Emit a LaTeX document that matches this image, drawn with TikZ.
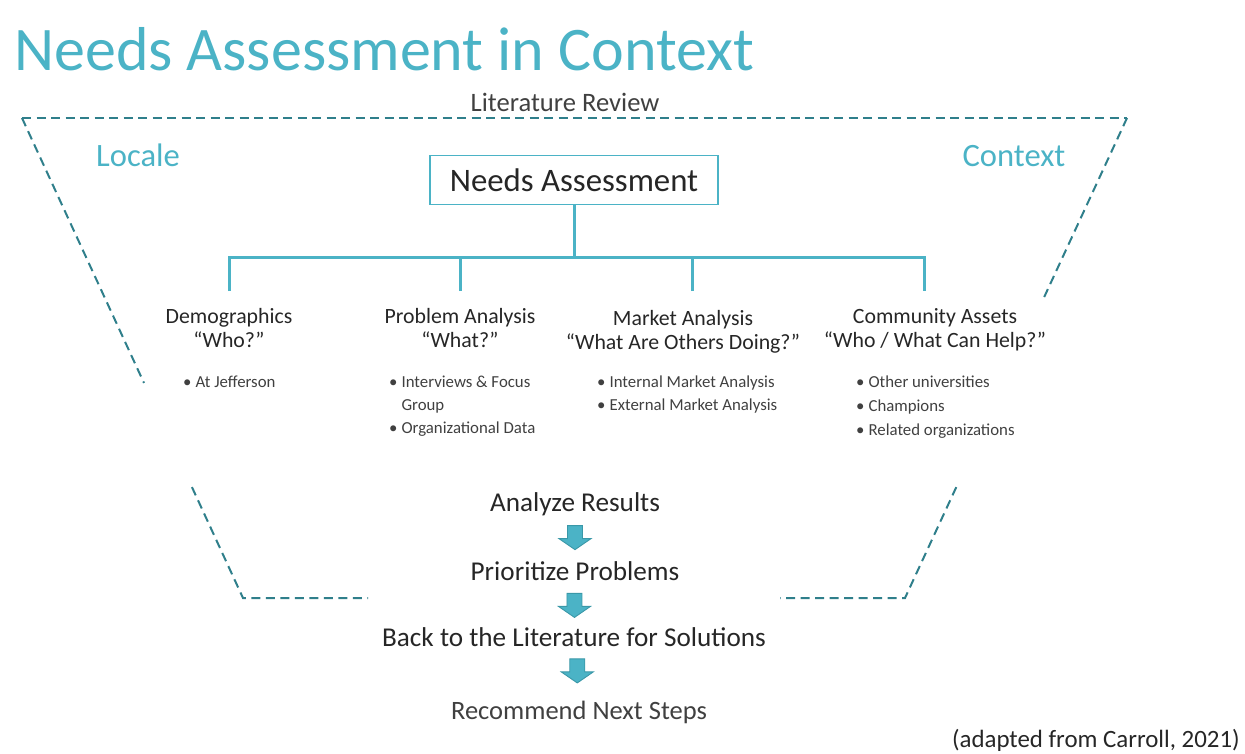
\documentclass[tikz,border=0pt]{standalone}
\usepackage{fontspec}
\setmainfont{Carlito}
\usetikzlibrary{calc}

\definecolor{teallight}{HTML}{4BB3C6}
\definecolor{tealdark}{HTML}{2F7F8B}
\definecolor{tealedge}{HTML}{3A98A8}
\definecolor{inktext}{HTML}{262626}
\definecolor{greytext}{HTML}{404040}

\tikzset{
  fs/.style={font=\fontsize{#1}{#1}\selectfont},
  border/.style={draw=tealdark, line width=2pt, dash pattern=on 9pt off 5.5pt},
  tree/.style={draw=teallight, line width=3pt},
  heading/.style={align=center, text=inktext, inner sep=0pt, font=\fontsize{21.8}{24.5}\selectfont},
  bullets/.style={align=left, anchor=north west, text=greytext, inner sep=0pt, font=\fontsize{16.8}{22.8}\selectfont},
  step text/.style={text=inktext, inner sep=0pt, font=\fontsize{27.2}{30}\selectfont},
  blockarrow/.pic={
    \draw[fill=teallight, draw=tealedge, line width=0.9pt]
      (-7.5,-12) -- (7.5,-12) -- (7.5,1) -- (16,1) -- (0,12) -- (-16,1) -- (-7.5,1) -- cycle;
  }
}

\begin{document}
\begin{tikzpicture}[x=1pt, y=-1pt]
\useasboundingbox (0,0) rectangle (1245,753);

% title and frame labels
\node[anchor=base west, inner sep=0pt, text=teallight, fs=62] (title) at (14,70) {Needs Assessment in Context};
\node[inner sep=0pt, text=greytext, fs=26.6] (lit) at (565,102) {Literature Review};
\node[inner sep=0pt, text=teallight, fs=32.6] (locale) at (138,155) {Locale};
\node[inner sep=0pt, text=teallight, fs=32.6] (context) at (1014,156) {Context};

% dashed funnel outline
\coordinate (tl) at (22,118);
\coordinate (tr) at (1127,118);
\draw[border] (tl) -- (tr);
\draw[border] (tl) -- ($(tl)!0.552!(243,598)$);
\draw[border] ($(tl)!0.769!(243,598)$) -- (243,598) -- (368,598);
\draw[border] (tr) -- ($(tr)!0.373!(905,598)$);
\draw[border] ($(tr)!0.769!(905,598)$) -- (905,598) -- (780,598);

% top box
\node[draw=teallight, line width=1.2pt, minimum width=288pt, minimum height=49pt, inner sep=0pt,
      text=inktext, fs=32.8] (na) at (574,180) {Needs Assessment};

% branch headings
\node[heading] (demo) at (229,328) {Demographics\\“Who?”};
\node[heading] (prob) at (460,328) {Problem Analysis\\“What?”};
\node[heading] (mark) at (683,332) {Market Analysis\\“What Are Others Doing?”};
\node[heading] (comm) at (935,330) {Community Assets\\“Who / What Can Help?”};

% tree connectors
\coordinate (bar) at (0,257);
\coordinate (d1) at (229,291);
\coordinate (d2) at (460,291);
\coordinate (d3) at (692,291);
\coordinate (d4) at (924,291);
\draw[tree] (na.south) -- (na.south |- bar);
\draw[tree] (d1) -- (d1 |- bar) -- (d4 |- bar) -- (d4);
\draw[tree] (d2) -- (d2 |- bar);
\draw[tree] (d3) -- (d3 |- bar);

% bullet lists
\newcommand{\bul}{\textbullet\hspace{4pt}}
\newcommand{\bulgap}{\hphantom{\textbullet\hspace{4pt}}}
\node[bullets] (demolist) at (183,376) {\bul At Jefferson};
\node[bullets] (problist) at (389,376) {\bul Interviews \& Focus\\\bulgap Group\\\bul Organizational Data};
\node[bullets] (marklist) at (597,376) {\bul Internal Market Analysis\\\bul External Market Analysis};
\node[bullets, font=\fontsize{16.8}{23.6}\selectfont] (commlist) at (856,376) {\bul Other universities\\\bul Champions\\\bul Related organizations};

% process steps
\node[step text] (analyze) at (575,504) {Analyze Results};
\node[step text] (prior) at (575,571) {Prioritize Problems};
\node[step text] (back) at (574,637) {Back to the Literature for Solutions};
\node[step text, text=greytext, fs=26.5] (recommend) at (579,712) {Recommend Next Steps};

\path (analyze) -- (prior) coordinate[pos=0.48] (a1);
\path (prior) -- (back) coordinate[pos=0.53] (a2);
\path (back) -- (recommend) coordinate[pos=0.45] (a3);
\pic at (a1) {blockarrow};
\pic at (a2) {blockarrow};
\pic at ([xshift=1pt]a3) {blockarrow};

% source note
\node[anchor=east, inner sep=0pt, text=inktext, fs=24.9] (src) at (1240,740) {(adapted from Carroll, 2021)};
\end{tikzpicture}
\end{document}
